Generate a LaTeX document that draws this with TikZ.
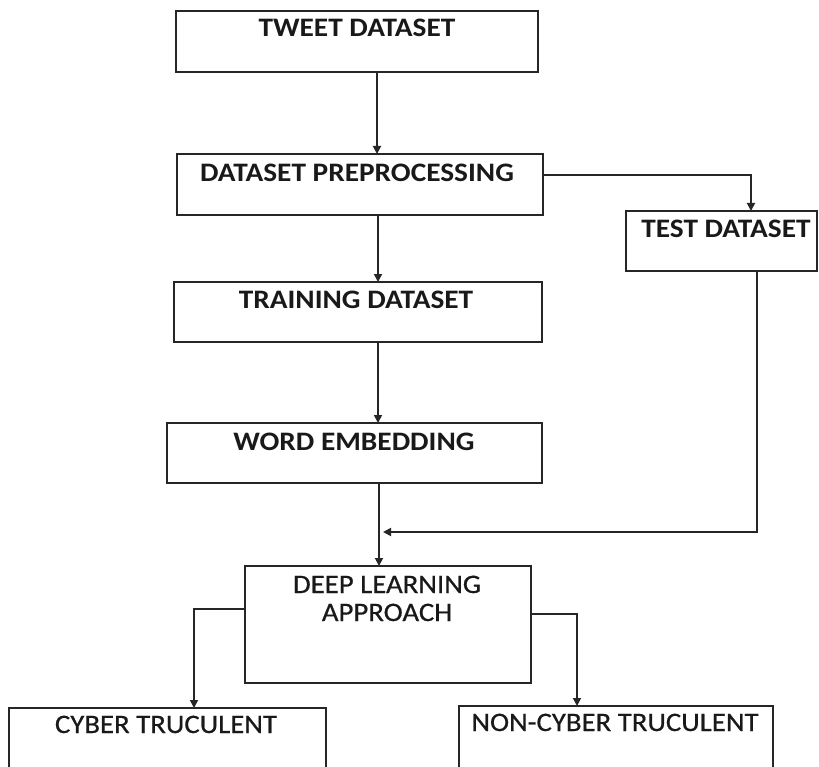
\documentclass[tikz,border=0pt]{standalone}
\usepackage{fontspec}
\setmainfont{Carlito}
\newfontfamily\boldboxfont[FakeStretch=1.1]{Carlito Bold}
\newfontfamily\regboxfont[FakeStretch=1.08,FakeBold=0.6]{Carlito}
\usetikzlibrary{arrows.meta}
\begin{document}
\begin{tikzpicture}[x=0.75pt,y=-0.75pt,
  box/.style={draw=black!85, line width=1.3pt, fill=none, inner sep=0pt, outer sep=0pt, rectangle},
  btext/.style={inner sep=0pt, anchor=base, font=\boldboxfont\fontsize{20}{24}\selectfont, text=black!90},
  rtext/.style={inner sep=0pt, anchor=base, font=\regboxfont\fontsize{20}{24}\selectfont, text=black!90, align=center},
  conn/.style={draw=black!85, line width=1.3pt, -{Triangle[width=6pt,length=6pt]}}]
\useasboundingbox (0,0) rectangle (819,767);
\begin{scope}
\clip (0,0) rectangle (819,767);
% boxes
\node[box, minimum width=362*0.75pt, minimum height=61*0.75pt] (tweet) at (357,41.5) {};
\node[box, minimum width=366*0.75pt, minimum height=61*0.75pt] (prep) at (360,184.5) {};
\node[box, minimum width=191*0.75pt, minimum height=60*0.75pt] (test) at (721.5,241) {};
\node[box, minimum width=368*0.75pt, minimum height=60*0.75pt] (train) at (358,312) {};
\node[box, minimum width=375*0.75pt, minimum height=60*0.75pt] (word) at (354.5,453) {};
\node[box, minimum width=286*0.75pt, minimum height=117*0.75pt] (deep) at (388,624.5) {};
\node[box, minimum width=317*0.75pt, minimum height=84*0.75pt] (cyber) at (167.5,750) {};
\node[box, minimum width=314*0.75pt, minimum height=84*0.75pt] (noncyber) at (616,748) {};
% labels
\node[btext] (tweetT) at (357,37) {TWEET DATASET};
\node[btext] (prepT) at (357,181) {DATASET PREPROCESSING};
\node[btext] (testT) at (726,238) {TEST DATASET};
\node[btext] (trainT) at (356,309) {TRAINING DATASET};
\node[btext] (wordT) at (354,450) {WORD EMBEDDING};
\node[rtext] (deepT1) at (387,593) {DEEP LEARNING};
\node[rtext] (deepT2) at (387,621) {APPROACH};
\node[rtext] (cyberT) at (166,733) {CYBER TRUCULENT};
\node[rtext] (noncyberT) at (615,731) {NON-CYBER TRUCULENT};
% connector helper coordinates
\coordinate (x1) at (377,0);
\coordinate (x2) at (378,0);
\coordinate (x3) at (379,0);
\coordinate (ptr) at (751,175);
\coordinate (tb) at (757,0);
\coordinate (join) at (757,532);
\coordinate (jend) at (383,532);
\coordinate (dl) at (194,609);
\coordinate (dr) at (577,614);
% connectors
\draw[conn] (tweet.south -| x1) -- (prep.north -| x1);
\draw[conn] (prep.south -| x2) -- (train.north -| x2);
\draw[conn] (train.south -| x2) -- (word.north -| x2);
\draw[conn] (word.south -| x3) -- (deep.north -| x3);
\draw[conn] (prep.east |- ptr) -- (ptr) -- (test.north -| ptr);
\draw[conn] (test.south -| tb) -- (join) -- (jend);
\draw[conn] (deep.west |- dl) -- (dl) -- (cyber.north -| dl);
\draw[conn] (deep.east |- dr) -- (dr) -- (noncyber.north -| dr);
\end{scope}
\end{tikzpicture}
\end{document}
